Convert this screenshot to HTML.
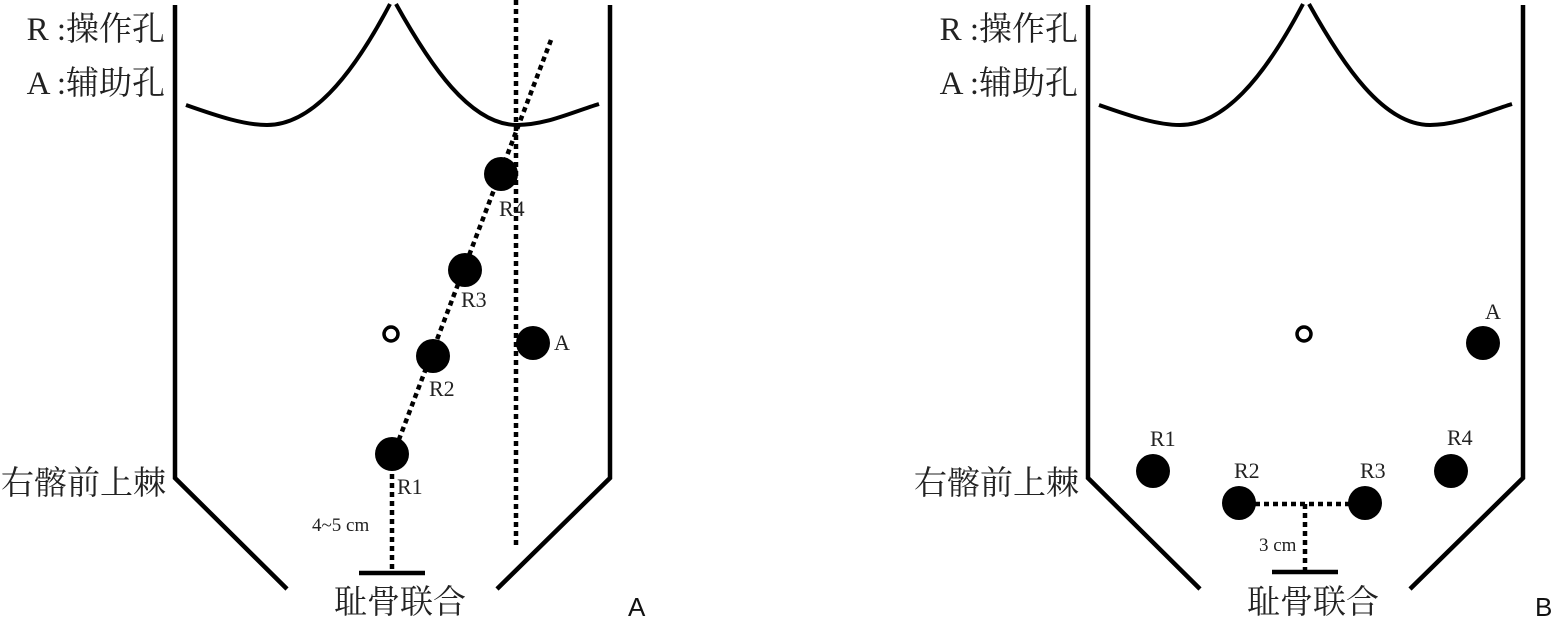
<!DOCTYPE html>
<html><head><meta charset="utf-8"><style>
html,body{margin:0;padding:0;background:#fff;}
svg{display:block;}
.cj{font-family:"Liberation Serif","Noto Serif CJK SC",serif;font-size:33px;fill:#222;}
.lb{font-family:"Liberation Serif","Noto Serif CJK SC",serif;font-size:22px;fill:#222;}
.pl{font-family:"Liberation Sans",sans-serif;font-size:26px;fill:#111;}
</style></head><body>
<svg width="1558" height="623" viewBox="0 0 1558 623" xmlns="http://www.w3.org/2000/svg">
<defs>
<g id="frame">
<path d="M175,5 L175,478 L287,589" fill="none" stroke="#000" stroke-width="4.5"/>
<path d="M610,5 L610,478 L497,589" fill="none" stroke="#000" stroke-width="4.5"/>
<path d="M186,105 C220,117 245,125 267,125 C310,125 350,80 390,4" fill="none" stroke="#000" stroke-width="4"/>
<path d="M396,4 C430,65 470,125 517,125 C545,125 570,113 599,104" fill="none" stroke="#000" stroke-width="4"/>
<circle cx="391" cy="334" r="7" fill="none" stroke="#000" stroke-width="3.5"/>
<text class="cj" x="165" y="40" text-anchor="end">R :操作孔</text>
<text class="cj" x="165" y="94" text-anchor="end">A :辅助孔</text>
<text class="cj" x="166" y="494" text-anchor="end">右髂前上棘</text>
<text class="cj" x="400" y="613" text-anchor="middle">耻骨联合</text>
</g>
</defs>
<use href="#frame"/>
<use href="#frame" transform="translate(913,0)"/>

<!-- Panel A -->
<line x1="516" y1="0" x2="516" y2="548" stroke="#000" stroke-width="4.5" stroke-dasharray="5,4"/>
<line x1="551" y1="40" x2="398" y2="442" stroke="#000" stroke-width="4.5" stroke-dasharray="5,4"/>
<line x1="392" y1="465" x2="392" y2="572" stroke="#000" stroke-width="4.5" stroke-dasharray="5,4"/>
<line x1="359" y1="573" x2="425" y2="573" stroke="#000" stroke-width="4.5"/>
<circle cx="501" cy="174" r="17" fill="#000"/>
<circle cx="465" cy="270" r="17" fill="#000"/>
<circle cx="433" cy="356" r="17" fill="#000"/>
<circle cx="392" cy="454" r="17" fill="#000"/>
<circle cx="533" cy="343" r="17" fill="#000"/>
<text class="lb" x="499" y="216">R4</text>
<text class="lb" x="461" y="307">R3</text>
<text class="lb" x="429" y="396">R2</text>
<text class="lb" x="397" y="494">R1</text>
<text class="lb" x="554" y="350">A</text>
<text class="lb" x="312" y="531" style="font-size:19px">4~5 cm</text>
<text class="pl" x="628" y="616">A</text>

<!-- Panel B -->
<line x1="1255" y1="504" x2="1350" y2="504" stroke="#000" stroke-width="4.5" stroke-dasharray="5,4"/>
<line x1="1305" y1="504" x2="1305" y2="571" stroke="#000" stroke-width="4.5" stroke-dasharray="5,4"/>
<line x1="1272" y1="572" x2="1338" y2="572" stroke="#000" stroke-width="4.5"/>
<circle cx="1153" cy="471" r="17" fill="#000"/>
<circle cx="1239" cy="503" r="17" fill="#000"/>
<circle cx="1365" cy="503" r="17" fill="#000"/>
<circle cx="1451" cy="471" r="17" fill="#000"/>
<circle cx="1483" cy="343" r="17" fill="#000"/>
<text class="lb" x="1150" y="446">R1</text>
<text class="lb" x="1234" y="478">R2</text>
<text class="lb" x="1360" y="478">R3</text>
<text class="lb" x="1447" y="445">R4</text>
<text class="lb" x="1485" y="319">A</text>
<text class="lb" x="1259" y="551" style="font-size:19px">3 cm</text>
<text class="pl" x="1535" y="616">B</text>
</svg>
</body></html>
